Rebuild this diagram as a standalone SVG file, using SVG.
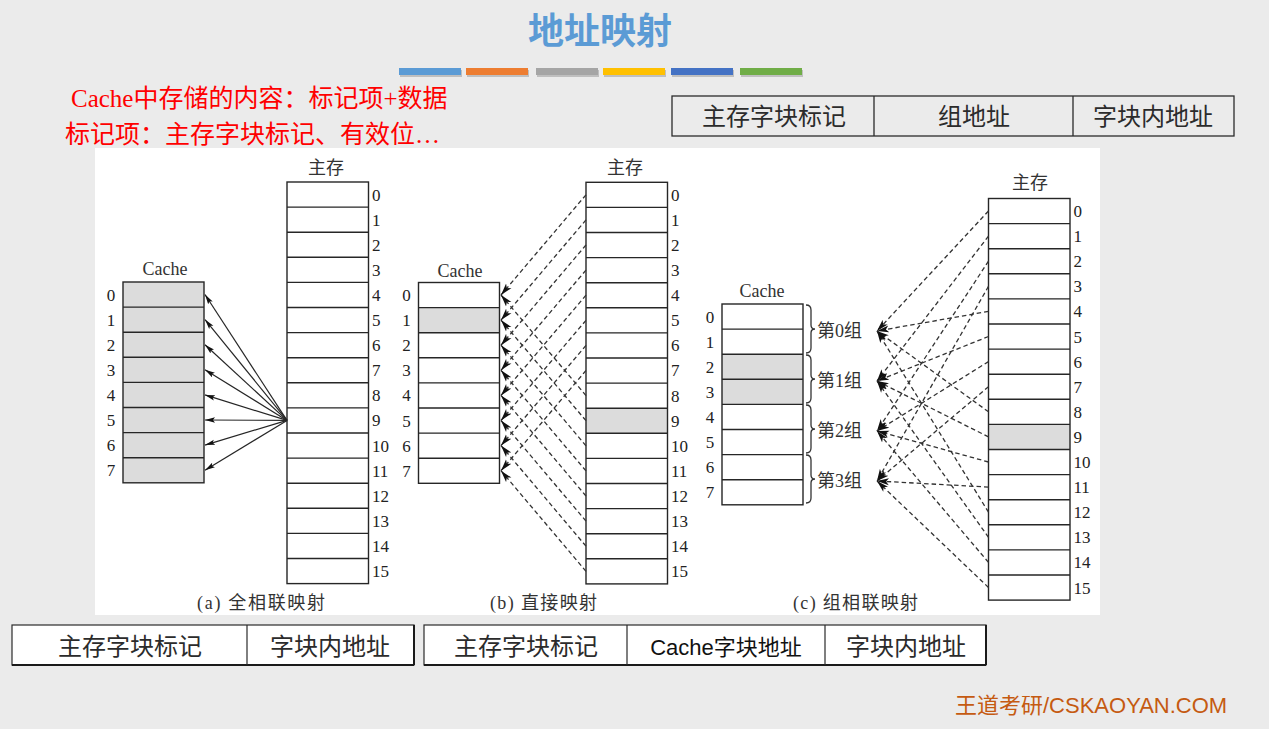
<svg xmlns="http://www.w3.org/2000/svg" xmlns:xlink="http://www.w3.org/1999/xlink" width="1269" height="729" viewBox="0 0 1269 729">
  <style>
    .cjk { font-family: "Liberation Serif", "Noto Sans CJK SC", serif; }
    .sans { font-family: "Liberation Sans", "Noto Sans CJK SC", sans-serif; }
    .cell { fill: none; stroke: #262626; stroke-width: 1.4; }
    .num { font-family: "Liberation Serif", serif; font-size: 17px; fill: #222; }
    .lbl { font-family: "Liberation Serif", "Noto Sans CJK SC", serif; font-size: 18px; fill: #333; }
    .hl { fill: #dcdcdc; }
    .solid { stroke: #262626; stroke-width: 1.2; fill: none; }
    .dash { stroke: #333; stroke-width: 1.3; stroke-dasharray: 4.5 3; fill: none; }
    .tbl { fill: #2b2b2b; font-size: 24px; }
    .brace { fill: none; stroke: #333; stroke-width: 1.3; }
  </style>
  <defs>
    <marker id="head" markerUnits="userSpaceOnUse" markerWidth="12" markerHeight="8" refX="12" refY="4" orient="auto">
      <path d="M0,0.5 L12,4 L0,7.5 L3,4 z" fill="#111"/>
    </marker>
    <marker id="headS" markerUnits="userSpaceOnUse" markerWidth="10" markerHeight="6" refX="10" refY="3" orient="auto">
      <path d="M0,0.3 L10,3 L0,5.7 L2,3 z" fill="#111"/>
    </marker>
    <!-- 16-block main memory column, labels 0..15 on the right -->
    <g id="mem16">
      <rect class="cell" x="0" y="0" width="81.5" height="401.6"/>
      <path class="cell" d="M0,25.1h81.5M0,50.2h81.5M0,75.3h81.5M0,100.4h81.5M0,125.5h81.5M0,150.6h81.5M0,175.7h81.5M0,200.8h81.5M0,225.9h81.5M0,251h81.5M0,276.1h81.5M0,301.2h81.5M0,326.3h81.5M0,351.4h81.5M0,376.5h81.5"/>
      <g class="num">
        <text x="85" y="18.5">0</text>
        <text x="85" y="43.6">1</text>
        <text x="85" y="68.7">2</text>
        <text x="85" y="93.8">3</text>
        <text x="85" y="118.9">4</text>
        <text x="85" y="144">5</text>
        <text x="85" y="169.1">6</text>
        <text x="85" y="194.2">7</text>
        <text x="85" y="219.3">8</text>
        <text x="85" y="244.4">9</text>
        <text x="85" y="269.5">10</text>
        <text x="85" y="294.6">11</text>
        <text x="85" y="319.7">12</text>
        <text x="85" y="344.8">13</text>
        <text x="85" y="369.9">14</text>
        <text x="85" y="395">15</text>
      </g>
    </g>
    <!-- 8-block cache column, labels 0..7 on the left -->
    <g id="cache8">
      <rect class="cell" x="0" y="0" width="81" height="200.8"/>
      <path class="cell" d="M0,25.1h81M0,50.2h81M0,75.3h81M0,100.4h81M0,125.5h81M0,150.6h81M0,175.7h81"/>
      <g class="num" text-anchor="middle">
        <text x="-12" y="18.5">0</text>
        <text x="-12" y="43.6">1</text>
        <text x="-12" y="68.7">2</text>
        <text x="-12" y="93.8">3</text>
        <text x="-12" y="118.9">4</text>
        <text x="-12" y="144">5</text>
        <text x="-12" y="169.1">6</text>
        <text x="-12" y="194.2">7</text>
      </g>
    </g>
  </defs>

  <!-- slide background -->
  <rect x="0" y="0" width="1269" height="729" fill="#ebebeb"/>

  <!-- title and colour strip -->
  <g id="title">
    <text x="600" y="44" text-anchor="middle" font-family="Noto Sans CJK SC, sans-serif" font-size="36" font-weight="bold" fill="#5b9bd5">地址映射</text>
    <g fill="#000" opacity="0.18">
      <rect x="400" y="70" width="62" height="7"/>
      <rect x="467" y="70" width="62" height="7"/>
      <rect x="537" y="70" width="62" height="7"/>
      <rect x="604" y="70" width="62" height="7"/>
      <rect x="672" y="70" width="62" height="7"/>
      <rect x="741" y="70" width="62" height="7"/>
    </g>
    <rect x="399" y="68" width="62" height="7" fill="#5b9bd5"/>
    <rect x="466" y="68" width="62" height="7" fill="#ed7d31"/>
    <rect x="536" y="68" width="62" height="7" fill="#a5a5a5"/>
    <rect x="603" y="68" width="62" height="7" fill="#ffc000"/>
    <rect x="671" y="68" width="62" height="7" fill="#4472c4"/>
    <rect x="740" y="68" width="62" height="7" fill="#70ad47"/>
  </g>

  <!-- figure area -->
  <rect x="95" y="148" width="1005" height="467" fill="#ffffff"/>

  <!-- notes in red -->
  <g id="notes" class="cjk" font-size="25" fill="#ff0000">
    <text x="71" y="107">Cache中存储的内容：标记项+数据</text>
    <text x="65" y="143">标记项：主存字块标记、有效位…</text>
  </g>

  <!-- address format for set-associative mapping -->
  <g id="fmt-set" class="sans">
    <rect x="672" y="96" width="562" height="40" fill="none" stroke="#2b2b2b" stroke-width="1.3"/>
    <path d="M874,96V136M1073,96V136" stroke="#2b2b2b" stroke-width="1.3"/>
    <g class="tbl" text-anchor="middle">
      <text x="774" y="125">主存字块标记</text>
      <text x="974" y="125">组地址</text>
      <text x="1153" y="125">字块内地址</text>
    </g>
  </g>

  <!-- highlighted blocks -->
  <g id="highlights">
    <rect class="hl" x="123" y="282" width="81" height="200.8"/>
    <rect class="hl" x="418.5" y="307.6" width="81" height="25.1"/>
    <rect class="hl" x="586" y="408.2" width="81.5" height="25.1"/>
    <rect class="hl" x="722" y="354.2" width="81" height="50.2"/>
    <rect class="hl" x="988.5" y="424.4" width="81.5" height="25.1"/>
  </g>

  <!-- (a) fully associative -->
  <g id="a-cache">
    <use xlink:href="#cache8" href="#cache8" transform="translate(123,282)"/>
    <text class="lbl" x="165" y="275" text-anchor="middle" font-size="17">Cache</text>
  </g>
  <g id="a-mem">
    <use xlink:href="#mem16" href="#mem16" transform="translate(287,182)"/>
    <text class="lbl" x="326" y="174" text-anchor="middle">主存</text>
  </g>
  <text id="a-caption" class="lbl" x="197" y="609" textLength="128">(a) 全相联映射</text>

  <!-- (b) direct -->
  <g id="b-cache">
    <use xlink:href="#cache8" href="#cache8" transform="translate(418.5,282.5)"/>
    <text class="lbl" x="460" y="277" text-anchor="middle" font-size="17">Cache</text>
  </g>
  <g id="b-mem">
    <use xlink:href="#mem16" href="#mem16" transform="translate(586,182.3)"/>
    <text class="lbl" x="625" y="174" text-anchor="middle">主存</text>
  </g>
  <text id="b-caption" class="lbl" x="490" y="609" textLength="107">(b) 直接映射</text>

  <!-- (c) set associative -->
  <g id="c-cache">
    <use xlink:href="#cache8" href="#cache8" transform="translate(722,304)"/>
    <text class="lbl" x="762" y="297" text-anchor="middle" font-size="17">Cache</text>
  </g>
  <g id="c-sets">
    <path class="brace" d="M806,305 Q811,305 811,310 L811,325 Q811,329 815,329 Q811,329 811,333 L811,348 Q811,353 806,353"/>
    <path class="brace" d="M806,355 Q811,355 811,360 L811,375 Q811,379 815,379 Q811,379 811,383 L811,398 Q811,403 806,403"/>
    <path class="brace" d="M806,405 Q811,405 811,410 L811,425 Q811,429 815,429 Q811,429 811,433 L811,448 Q811,453 806,453"/>
    <path class="brace" d="M806,455 Q811,455 811,460 L811,475 Q811,479 815,479 Q811,479 811,483 L811,498 Q811,503 806,503"/>
    <g class="lbl">
      <text x="817" y="337">第0组</text>
      <text x="817" y="387">第1组</text>
      <text x="817" y="437">第2组</text>
      <text x="817" y="487">第3组</text>
    </g>
  </g>
  <g id="c-mem">
    <use xlink:href="#mem16" href="#mem16" transform="translate(988.5,198.5)"/>
    <text class="lbl" x="1030" y="189" text-anchor="middle">主存</text>
  </g>
  <text id="c-caption" class="lbl" x="793" y="609" textLength="125">(c) 组相联映射</text>

  <!-- mapping connectors -->
  <g id="connectors">
    <!-- (a) block 9 may go to any cache line -->
    <g class="solid" marker-end="url(#headS)">
      <line x1="287" y1="420.4" x2="205" y2="294.5"/>
      <line x1="287" y1="420.4" x2="205" y2="319.6"/>
      <line x1="287" y1="420.4" x2="205" y2="344.7"/>
      <line x1="287" y1="420.4" x2="205" y2="369.8"/>
      <line x1="287" y1="420.4" x2="205" y2="394.9"/>
      <line x1="287" y1="420.4" x2="205" y2="420.0"/>
      <line x1="287" y1="420.4" x2="205" y2="445.1"/>
      <line x1="287" y1="420.4" x2="205" y2="470.2"/>
    </g>
    <!-- (b) block i goes to line i mod 8 -->
    <g class="dash" marker-end="url(#head)">
      <line x1="586" y1="194.8" x2="501" y2="295.0"/>
      <line x1="586" y1="219.9" x2="501" y2="320.1"/>
      <line x1="586" y1="245.0" x2="501" y2="345.2"/>
      <line x1="586" y1="270.1" x2="501" y2="370.3"/>
      <line x1="586" y1="295.2" x2="501" y2="395.4"/>
      <line x1="586" y1="320.3" x2="501" y2="420.5"/>
      <line x1="586" y1="345.4" x2="501" y2="445.6"/>
      <line x1="586" y1="370.5" x2="501" y2="470.7"/>
      <line x1="586" y1="395.6" x2="501" y2="295.0"/>
      <line x1="586" y1="420.7" x2="501" y2="320.1"/>
      <line x1="586" y1="445.8" x2="501" y2="345.2"/>
      <line x1="586" y1="470.9" x2="501" y2="370.3"/>
      <line x1="586" y1="496.0" x2="501" y2="395.4"/>
      <line x1="586" y1="521.1" x2="501" y2="420.5"/>
      <line x1="586" y1="546.2" x2="501" y2="445.6"/>
      <line x1="586" y1="571.3" x2="501" y2="470.7"/>
    </g>
    <!-- (c) block i goes to set i mod 4 -->
    <g class="dash" stroke-dasharray="5 3" marker-end="url(#head)">
      <line x1="988.5" y1="211.0" x2="877" y2="331"/>
      <line x1="988.5" y1="236.1" x2="877" y2="381"/>
      <line x1="988.5" y1="261.2" x2="877" y2="431"/>
      <line x1="988.5" y1="286.3" x2="877" y2="481"/>
      <line x1="988.5" y1="311.4" x2="877" y2="331"/>
      <line x1="988.5" y1="336.5" x2="877" y2="381"/>
      <line x1="988.5" y1="361.6" x2="877" y2="431"/>
      <line x1="988.5" y1="386.7" x2="877" y2="481"/>
      <line x1="988.5" y1="411.8" x2="877" y2="331"/>
      <line x1="988.5" y1="436.9" x2="877" y2="381"/>
      <line x1="988.5" y1="462.0" x2="877" y2="431"/>
      <line x1="988.5" y1="487.1" x2="877" y2="481"/>
      <line x1="988.5" y1="512.2" x2="877" y2="331"/>
      <line x1="988.5" y1="537.3" x2="877" y2="381"/>
      <line x1="988.5" y1="562.4" x2="877" y2="431"/>
      <line x1="988.5" y1="587.5" x2="877" y2="481"/>
    </g>
  </g>

  <!-- address format, fully associative -->
  <g id="fmt-full" class="sans">
    <rect x="12" y="625" width="402" height="40" fill="#ffffff" stroke="#2b2b2b" stroke-width="1.2"/>
    <path d="M12,665H414M414,625V665" stroke="#1a1a1a" stroke-width="2"/>
    <path d="M247,625V665" stroke="#2b2b2b" stroke-width="1.2"/>
    <g class="tbl" text-anchor="middle">
      <text x="130" y="655">主存字块标记</text>
      <text x="330" y="655">字块内地址</text>
    </g>
  </g>

  <!-- address format, direct -->
  <g id="fmt-direct" class="sans">
    <rect x="424" y="625" width="562" height="40" fill="#ffffff" stroke="#2b2b2b" stroke-width="1.2"/>
    <path d="M424,665H986M986,625V665" stroke="#1a1a1a" stroke-width="2"/>
    <path d="M627,625V665M825,625V665" stroke="#2b2b2b" stroke-width="1.2"/>
    <g class="tbl" text-anchor="middle">
      <text x="526" y="655">主存字块标记</text>
      <text x="726" y="655" font-size="22" fill="#111">Cache字块地址</text>
      <text x="906" y="655">字块内地址</text>
    </g>
  </g>

  <!-- footer -->
  <text id="footer" class="sans" x="955" y="713" font-size="22" fill="#c55a11">王道考研/CSKAOYAN.COM</text>
</svg>
